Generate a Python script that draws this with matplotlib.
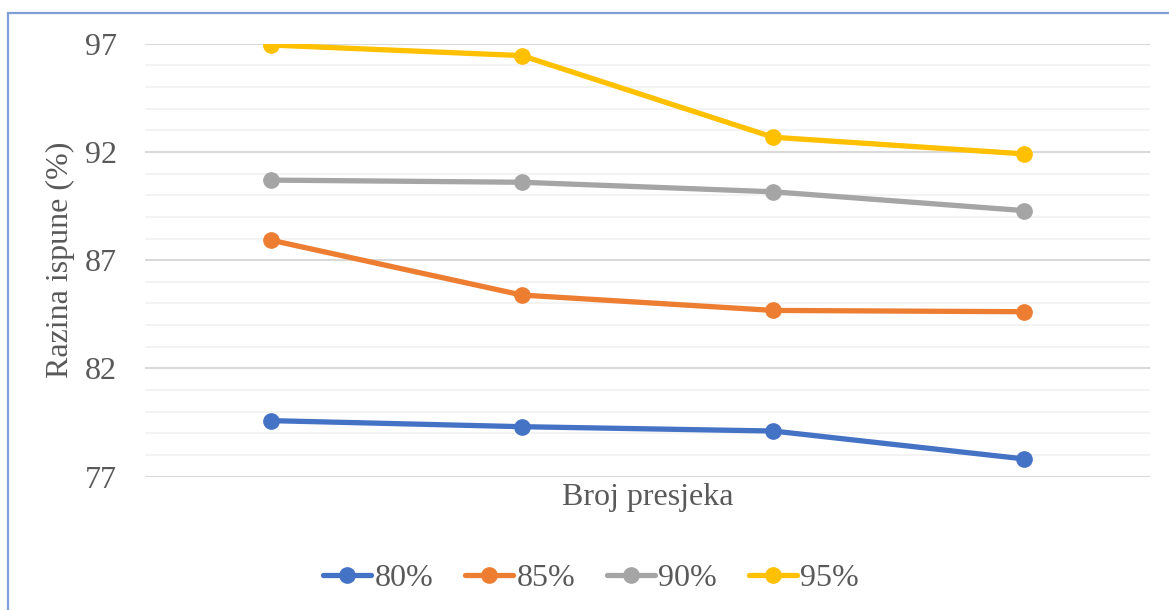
import matplotlib
matplotlib.use("Agg")
import matplotlib.pyplot as plt
from matplotlib.patches import Rectangle

categories = ["1", "2", "3", "4"]
series_names = ["80%", "85%", "90%", "95%"]
s80 = [79.59, 79.31, 79.11, 77.82]
s85 = [87.93, 85.39, 84.68, 84.62]
s90 = [90.70, 90.60, 90.16, 89.29]
s95 = [96.94, 96.45, 92.68, 91.91]
colors = ["#4472C4", "#ED7D31", "#A5A5A5", "#FFC000"]
yticks = [77, 82, 87, 92, 97]

plt.rcParams['font.family'] = ['Liberation Serif', 'DejaVu Serif']

W, H = 1169, 610
FS = 23
fig = plt.figure(figsize=(W / 100, H / 100), dpi=100)
ax = fig.add_axes([145 / W, 1 - 476.7 / H, (1150 - 145) / W, (476.7 - 43.7) / H])

# outer chart border (left and top visible)
fig.patches.append(Rectangle((7.5 / W, -0.1), 1.2, 1 - 13 / H + 0.1, transform=fig.transFigure,
                             fill=False, edgecolor="#7F9FD8", linewidth=1.6))

x = list(range(len(categories)))
for vals, c, name in zip([s80, s85, s90, s95], colors, series_names):
    ax.plot(x, vals, color=c, linewidth=3.8, marker='o', markersize=11,
            solid_capstyle='round', label=name, zorder=3)

ax.set_xlim(-0.5, len(categories) - 0.5)
ax.set_ylim(77, 97)
ax.set_yticks(yticks)
ax.set_yticks(range(77, 98), minor=True)
ax.set_xticks([])
ax.grid(axis='y', which='minor', color='#F2F2F2', linewidth=1.3, zorder=0)
ax.grid(axis='y', which='major', color='#D9D9D9', linewidth=1.5, zorder=1)
ax.set_axisbelow(True)
for s in ax.spines.values():
    s.set_visible(False)
ax.tick_params(axis='y', which='both', length=0, pad=20, labelsize=FS, labelcolor='#595959')
ax.tick_params(axis='x', length=0)

fig.text(60 / W, 1 - 260 / H, "Razina ispune (%)", rotation=90, ha='center', va='center',
         fontsize=FS, color='#595959')
fig.text(648 / W, 1 - 498 / H, "Broj presjeka", ha='center', va='center',
         fontsize=FS, color='#595959')

leg = ax.legend(loc='center', bbox_to_anchor=(591 / W, 1 - 578 / H), bbox_transform=fig.transFigure,
                ncol=4, frameon=False, fontsize=FS, handlelength=1.5, handletextpad=0.1,
                columnspacing=1.0, borderpad=0, borderaxespad=0)
for t in leg.get_texts():
    t.set_color('#595959')

fig.savefig("out.png", dpi=100)
